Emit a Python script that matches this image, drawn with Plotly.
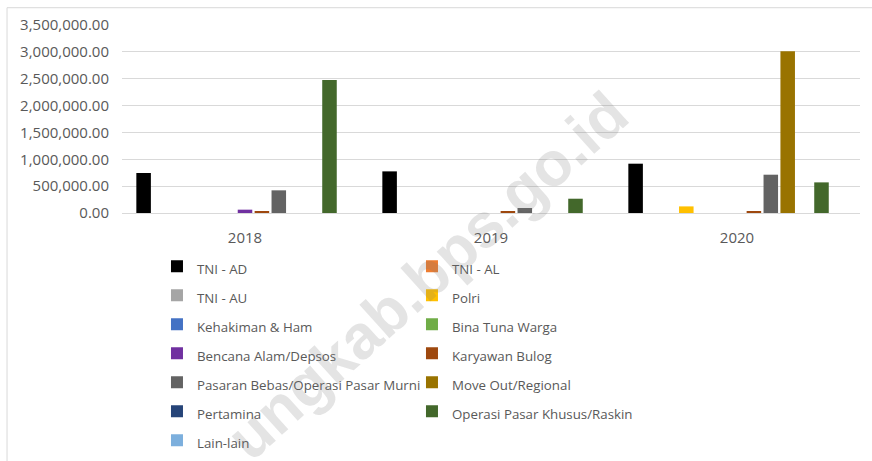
import plotly.graph_objects as go

years = ["2018", "2019", "2020"]

series_names = [
    "TNI - AD", "TNI - AL", "TNI - AU", "Polri", "Kehakiman & Ham",
    "Bina Tuna Warga", "Bencana Alam/Depsos", "Karyawan Bulog",
    "Pasaran Bebas/Operasi Pasar Murni", "Move Out/Regional", "Pertamina",
    "Operasi Pasar Khusus/Raskin", "Lain-lain",
]

tni_ad = [745000, 775000, 918000]
tni_al = [0, 0, 0]
tni_au = [0, 0, 0]
polri = [0, 0, 123000]
kehakiman = [0, 0, 0]
bina_tuna = [0, 0, 0]
bencana = [62000, 0, 0]
karyawan = [36000, 30000, 30000]
pasaran = [422000, 93000, 713000]
move_out = [0, 0, 3010000]
pertamina = [0, 0, 0]
operasi = [2475000, 266000, 570000]
lain_lain = [0, 0, 0]

series_values = [tni_ad, tni_al, tni_au, polri, kehakiman, bina_tuna, bencana,
                 karyawan, pasaran, move_out, pertamina, operasi, lain_lain]

colors = ["#000000", "#ED7D31", "#A5A5A5", "#FFC000", "#4472C4", "#70AD47",
          "#7030A0", "#9E480E", "#636363", "#997300", "#264478", "#43682B",
          "#7CAFDD"]

y_tick_vals = [0, 500000, 1000000, 1500000, 2000000, 2500000, 3000000, 3500000]

FONT = "Open Sans"
TXT = "#595959"

fig = go.Figure()
for name, vals, col in zip(series_names, series_values, colors):
    fig.add_trace(go.Bar(
        x=years, y=vals, name=f'<span style="font-size:13.3px">{name}</span>',
        marker=dict(color=col, line=dict(width=0)),
    ))

fig.update_layout(
    width=872, height=461,
    margin=dict(l=122, r=12, t=25, b=248, autoexpand=False),
    paper_bgcolor="white", plot_bgcolor="white",
    barmode="group", bargap=0.107, bargroupgap=0.14,
    font=dict(family=FONT, color=TXT, size=14),
    showlegend=True,
    legend=dict(
        orientation="h", x=0.0474, xanchor="left",
        yref="container", y=0.465, yanchor="top",
        entrywidth=210, entrywidthmode="pixels",
        bgcolor="rgba(0,0,0,0)",
        font=dict(family=FONT, color=TXT, size=20),
        traceorder="normal", itemclick=False,
    ),
    xaxis=dict(
        showgrid=False, showline=True, linecolor="#D9D9D9", linewidth=1,
        ticks="", tickfont=dict(family=FONT, size=15, color=TXT),
        ticklabelstandoff=11, automargin=False,
    ),
    yaxis=dict(
        range=[0, 3500000], tickvals=y_tick_vals, tickformat=",.2f",
        showgrid=True, gridcolor="#D9D9D9", gridwidth=1, zeroline=False,
        showline=False, ticks="", automargin=False,
        tickfont=dict(family=FONT, size=15, color=TXT),
        ticklabelstandoff=12,
    ),
    shapes=[dict(
        type="rect", xref="paper", yref="paper",
        x0=-0.1558, x1=1.03, y0=-1.4, y1=1.092,
        line=dict(color="#D9D9D9", width=1), fillcolor="rgba(0,0,0,0)",
        layer="below",
    )],
    annotations=[dict(
        text="<b>ungkab.bps.go.id</b>", xref="paper", yref="paper",
        x=0.413, y=-0.33, xanchor="center", yanchor="middle",
        showarrow=False, textangle=-42,
        font=dict(family="Liberation Sans", size=62, color="rgba(120,120,120,0.2)"),
    )],
)

fig.write_html(
    "out.html",
    config={"displayModeBar": False},
    post_script="document.body.style.margin='0';document.body.style.overflow='hidden';",
)
